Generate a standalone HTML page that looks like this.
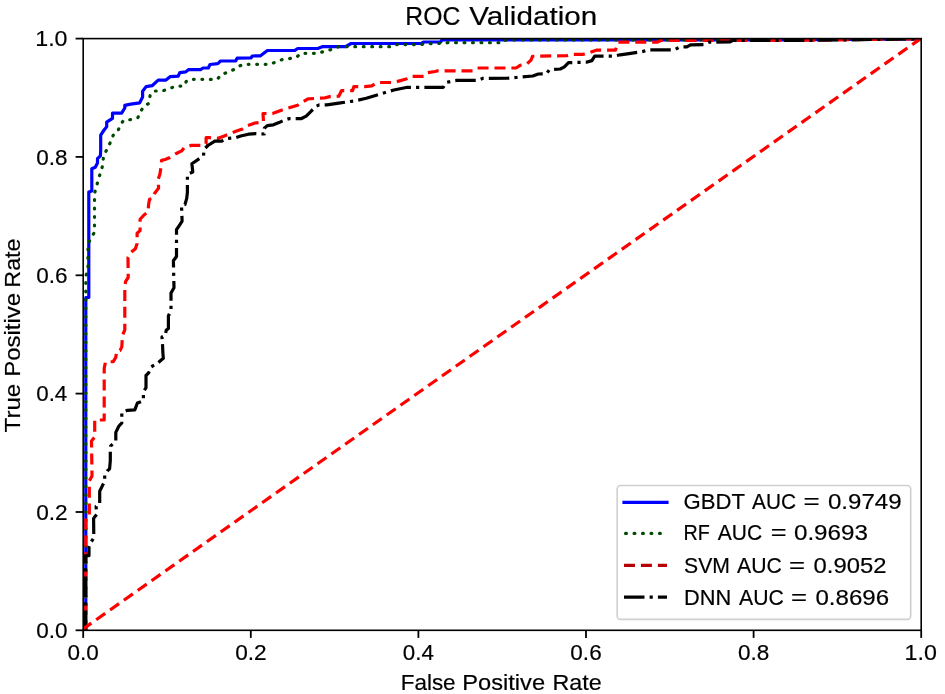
<!DOCTYPE html><html><head><meta charset="utf-8"><style>html,body{margin:0;padding:0;background:#fff;}svg{display:block;will-change:transform;}</style></head><body><svg width="945" height="694" viewBox="0 0 945 694">
<rect width="945" height="694" fill="#fff"/>
<defs><clipPath id="ax"><rect x="83.2" y="38.6" width="838.0" height="591.6999999999999"/></clipPath></defs>
<g clip-path="url(#ax)" fill="none" stroke-linejoin="round">
<path d="M85.8 631.0 L85.8 297.5 L88.8 297.5 L88.8 192.0 L91.8 191.0 L91.8 168.8 L95.3 167.3 L97.5 163.0 L97.5 158.7 L100.4 155.8 L100.7 150.0 L100.7 135.2 L104.1 130.0 L106.7 126.8 L106.7 122.2 L112.5 118.3 L112.5 113.2 L121.6 113.2 L124.8 108.0 L124.8 105.4 L130.7 104.1 L139.7 102.8 L142.6 97.1 L142.6 91.3 L146.1 86.6 L152.1 85.7 L158.2 80.1 L166.0 80.1 L170.3 76.6 L178.1 76.2 L179.8 72.7 L185.8 71.9 L188.4 69.7 L200.5 69.7 L203.1 68.0 L208.3 68.0 L210.0 64.5 L217.8 63.6 L220.6 61.0 L235.8 60.8 L237.1 58.2 L250.9 58.0 L252.3 56.0 L260.5 55.8 L267.4 50.5 L294.9 50.3 L297.7 48.5 L318.3 48.3 L322.4 46.7 L345.6 46.7 L351.1 43.5 L421.3 43.5 L424.0 42.0 L440.6 42.0 L442.0 39.9 L780.0 39.9 L921.2 38.8" stroke="#0000ff" stroke-width="3.2" stroke-linecap="square"/>
<path d="M85.8 631.0 L85.8 276.0 L88.0 270.0 L88.0 244.5 L90.4 239.0 L93.8 233.4 L94.5 226.0 L94.5 193.5 L96.6 186.0 L98.6 178.4 L101.4 170.1 L102.8 164.6 L103.5 156.0 L108.3 146.7 L111.0 141.0 L113.2 135.2 L117.7 131.3 L120.3 125.5 L123.5 120.3 L131.3 119.6 L137.8 117.7 L140.4 111.9 L143.6 106.7 L148.8 103.4 L150.1 95.6 L153.7 91.0 L161.9 91.0 L168.8 88.9 L175.7 86.1 L183.9 86.1 L186.7 80.6 L192.2 79.3 L217.2 79.4 L221.3 74.6 L227.5 72.3 L233.7 69.6 L238.5 66.3 L244.0 64.3 L270.2 64.3 L275.7 62.0 L282.5 59.5 L289.4 58.6 L296.3 57.4 L301.1 53.3 L318.3 53.3 L325.2 51.0 L331.9 49.4 L338.8 46.7 L391.0 46.7 L393.8 44.6 L421.3 44.6 L425.4 43.3 L435.0 43.8 L448.0 42.7 L503.0 42.7 L506.0 40.0 L780.0 40.0 L921.2 38.8" stroke="#004a00" stroke-width="3.2" stroke-dasharray="0.8 7.68" stroke-linecap="round"/>
<path d="M85.8 631.0 L85.8 518.0 L89.3 516.0 L89.3 481.0 L92.0 476.0 L91.5 441.0 L94.7 437.0 L94.7 420.0 L104.2 420.0 L104.2 368.4 L105.5 362.0 L113.2 361.6 L115.8 357.3 L116.6 351.2 L120.1 350.4 L121.8 346.9 L122.5 335.3 L124.8 329.8 L124.8 289.9 L125.5 281.6 L128.2 277.5 L128.0 257.4 L131.1 252.2 L135.4 248.7 L137.1 243.5 L137.1 233.2 L140.1 230.6 L140.1 219.3 L144.0 215.0 L148.0 212.0 L148.6 204.5 L149.5 199.3 L153.0 198.4 L154.7 193.2 L158.6 188.1 L158.2 179.4 L159.9 174.2 L161.2 165.6 L161.6 160.4 L165.1 159.5 L169.4 157.8 L176.3 153.5 L181.6 150.9 L184.4 147.5 L191.3 145.4 L200.9 145.4 L206.1 143.7 L206.1 137.7 L209.6 137.7 L218.2 138.3 L224.3 135.9 L230.4 133.4 L237.3 130.8 L242.5 129.0 L247.6 125.6 L255.0 123.0 L263.5 121.9 L263.0 113.5 L272.5 113.5 L284.6 109.2 L297.6 105.3 L302.0 102.3 L308.0 98.8 L324.4 98.0 L329.6 96.6 L338.8 96.2 L341.5 90.7 L352.5 90.7 L353.9 86.6 L364.9 86.6 L371.8 85.9 L377.3 82.5 L393.8 82.5 L406.2 79.0 L410.3 76.3 L424.0 76.3 L426.8 72.8 L435.0 71.5 L437.8 70.8 L473.4 70.8 L477.5 68.0 L516.0 68.0 L520.2 65.3 L527.0 63.9 L531.2 59.8 L532.5 56.3 L566.9 55.6 L571.0 54.3 L580.0 54.3 L583.3 54.3 L590.0 52.3 L596.3 50.2 L615.4 50.2 L618.3 42.2 L657.0 42.2 L661.4 40.3 L800.0 40.3 L921.2 38.8" stroke="#ff0000" stroke-width="3.2" stroke-dasharray="11.0 5.92" stroke-linecap="butt"/>
<path d="M85.6 631.0 L85.6 555.6 L89.0 555.6 L89.0 547.0 L91.0 542.0 L93.8 538.0 L93.6 518.4 L96.6 514.4 L96.1 506.3 L99.7 504.3 L99.7 491.2 L102.2 486.1 L104.7 481.1 L104.7 475.0 L107.2 471.0 L109.6 468.9 L110.3 460.6 L110.3 452.4 L110.6 446.2 L115.8 441.0 L115.8 432.4 L118.8 426.3 L121.8 422.9 L121.8 412.5 L127.4 410.3 L134.8 409.9 L137.4 403.0 L143.4 400.8 L143.4 392.0 L146.0 387.6 L146.0 375.5 L148.6 372.9 L151.2 366.8 L157.3 363.4 L163.3 358.2 L162.9 353.0 L162.5 344.3 L162.0 337.0 L165.4 335.4 L166.2 330.2 L168.4 328.4 L168.4 316.0 L171.0 310.3 L171.0 293.0 L174.0 287.8 L173.4 260.8 L176.5 256.5 L176.5 229.7 L179.1 225.8 L182.1 221.1 L181.5 205.3 L185.0 204.5 L186.7 198.4 L187.4 192.4 L187.4 174.2 L192.8 172.0 L191.9 163.8 L203.5 155.8 L204.0 149.4 L207.9 145.5 L214.8 141.1 L221.7 141.1 L226.9 138.5 L235.5 137.7 L240.7 136.0 L248.5 134.2 L255.9 133.6 L264.3 134.0 L264.3 128.2 L267.3 125.6 L273.4 124.8 L279.0 122.6 L284.6 120.0 L288.9 118.7 L301.0 118.7 L306.2 116.1 L310.5 111.8 L315.7 106.6 L319.2 104.9 L327.0 104.8 L338.8 103.1 L353.9 101.0 L366.3 98.3 L380.0 94.1 L393.8 90.0 L407.5 87.3 L443.3 87.3 L446.0 82.5 L455.0 80.6 L456.9 80.4 L477.5 80.4 L483.0 78.3 L507.8 78.2 L516.3 77.5 L532.8 76.0 L538.3 74.0 L546.5 73.8 L549.3 69.8 L560.3 69.0 L564.4 66.8 L568.5 62.7 L586.4 62.2 L591.9 60.6 L594.7 56.2 L613.8 56.2 L620.2 54.8 L627.3 53.8 L642.4 51.6 L648.7 49.8 L674.1 49.9 L679.7 47.0 L686.8 46.8 L690.5 44.8 L704.3 44.6 L709.0 42.2 L729.7 42.0 L732.3 40.5 L800.0 40.5 L921.2 38.8" stroke="#000000" stroke-width="3.2" stroke-dasharray="20.48 5.12 3.20 5.12" stroke-linecap="butt"/>
<path d="M83.2 628.9 L921.2 38.300000000000004" stroke="#ff0000" stroke-width="3.2" stroke-dasharray="11.0 5.92" stroke-dashoffset="1" stroke-linecap="butt"/>
</g>
<rect x="83.2" y="38.6" width="838.0" height="591.6999999999999" fill="none" stroke="#000" stroke-width="1.6" stroke-linejoin="miter"/>
<line x1="83.2" y1="630.3" x2="83.2" y2="637.9" stroke="#000" stroke-width="1.8"/>
<line x1="250.8" y1="630.3" x2="250.8" y2="637.9" stroke="#000" stroke-width="1.8"/>
<line x1="418.4" y1="630.3" x2="418.4" y2="637.9" stroke="#000" stroke-width="1.8"/>
<line x1="586.0" y1="630.3" x2="586.0" y2="637.9" stroke="#000" stroke-width="1.8"/>
<line x1="753.6" y1="630.3" x2="753.6" y2="637.9" stroke="#000" stroke-width="1.8"/>
<line x1="921.2" y1="630.3" x2="921.2" y2="637.9" stroke="#000" stroke-width="1.8"/>
<line x1="75.60000000000001" y1="630.3" x2="83.2" y2="630.3" stroke="#000" stroke-width="1.8"/>
<line x1="75.60000000000001" y1="512.0" x2="83.2" y2="512.0" stroke="#000" stroke-width="1.8"/>
<line x1="75.60000000000001" y1="393.6" x2="83.2" y2="393.6" stroke="#000" stroke-width="1.8"/>
<line x1="75.60000000000001" y1="275.3" x2="83.2" y2="275.3" stroke="#000" stroke-width="1.8"/>
<line x1="75.60000000000001" y1="156.9" x2="83.2" y2="156.9" stroke="#000" stroke-width="1.8"/>
<line x1="75.60000000000001" y1="38.6" x2="83.2" y2="38.6" stroke="#000" stroke-width="1.8"/>
<g font-family='"Liberation Sans", sans-serif' fill="#000" stroke="#000" stroke-width="0.18">
<text transform="translate(67.55,659.90) scale(1.0303,1)" font-size="21.86">0.0</text>
<text transform="translate(235.14,659.90) scale(1.0382,1)" font-size="21.86">0.2</text>
<text transform="translate(402.76,659.90) scale(1.0225,1)" font-size="21.86">0.4</text>
<text transform="translate(570.35,659.90) scale(1.0303,1)" font-size="21.86">0.6</text>
<text transform="translate(737.95,659.90) scale(1.0303,1)" font-size="21.86">0.8</text>
<text transform="translate(904.59,659.90) scale(1.0627,1)" font-size="21.86">1.0</text>
<text transform="translate(36.20,638.10) scale(0.9914,1)" font-size="22.71">0.0</text>
<text transform="translate(36.19,519.76) scale(0.9990,1)" font-size="22.71">0.2</text>
<text transform="translate(36.21,401.42) scale(0.9839,1)" font-size="22.71">0.4</text>
<text transform="translate(36.20,283.08) scale(0.9914,1)" font-size="22.71">0.6</text>
<text transform="translate(36.20,164.74) scale(0.9914,1)" font-size="22.71">0.8</text>
<text transform="translate(35.24,46.40) scale(1.0226,1)" font-size="22.71">1.0</text>
<text transform="translate(405.32,25.30) scale(0.9630,1)" font-size="25.71">ROC</text>
<text transform="translate(469.20,25.30) scale(1.1538,1)" font-size="25.71">Validation</text>
<text transform="translate(400.70,690.10) scale(1.0480,1)" font-size="21.43">False</text>
<text transform="translate(462.21,690.10) scale(1.1045,1)" font-size="21.43">Positive</text>
<text transform="translate(552.43,690.10) scale(1.0881,1)" font-size="21.43">Rate</text>
<text transform="translate(19.50,431.90) rotate(-90) scale(1.1248,1) translate(-0.43,0)" font-size="21.43">True</text>
<text transform="translate(19.50,374.90) rotate(-90) scale(1.1197,1) translate(-1.71,0)" font-size="21.43">Positive</text>
<text transform="translate(19.50,285.80) rotate(-90) scale(1.0858,1) translate(-1.71,0)" font-size="21.43">Rate</text>
</g>
<rect x="617.2" y="485.5" width="293.5" height="133.9" rx="3.5" ry="3.5" fill="#fff" fill-opacity="0.8" stroke="#d0d0d0" stroke-width="1.6"/>
<line x1="624" y1="502.4" x2="667" y2="502.4" stroke="#0000ff" stroke-width="3.2" stroke-linecap="square"/>
<g font-family='"Liberation Sans", sans-serif' fill="#000" stroke="#000" stroke-width="0.18">
<text transform="translate(683.59,508.50) scale(1.0315,1)" font-size="21.43">GBDT</text>
<text transform="translate(752.10,508.50) scale(0.9717,1)" font-size="21.43">AUC</text>
<text transform="translate(803.41,508.50) scale(1.2931,1)" font-size="21.43">=</text>
<text transform="translate(827.94,508.50) scale(1.1250,1)" font-size="21.43">0.9749</text>
</g>
<line x1="625.6" y1="533.4" x2="667" y2="533.4" stroke="#004a00" stroke-width="3.2" stroke-dasharray="0.8 7.68" stroke-linecap="round"/>
<g font-family='"Liberation Sans", sans-serif' fill="#000" stroke="#000" stroke-width="0.18">
<text transform="translate(683.52,540.30) scale(0.9218,1)" font-size="21.43">RF</text>
<text transform="translate(717.80,540.30) scale(0.9807,1)" font-size="21.43">AUC</text>
<text transform="translate(770.75,540.30) scale(1.2639,1)" font-size="21.43">=</text>
<text transform="translate(793.93,540.30) scale(1.1297,1)" font-size="21.43">0.9693</text>
</g>
<line x1="624" y1="565.3" x2="667" y2="565.3" stroke="#b80000" stroke-width="3.2" stroke-dasharray="11.0 5.92"/>
<g font-family='"Liberation Sans", sans-serif' fill="#000" stroke="#000" stroke-width="0.18">
<text transform="translate(684.04,573.20) scale(0.9882,1)" font-size="21.43">SVM</text>
<text transform="translate(737.10,573.20) scale(0.9897,1)" font-size="21.43">AUC</text>
<text transform="translate(789.12,573.20) scale(1.2833,1)" font-size="21.43">=</text>
<text transform="translate(813.55,573.20) scale(1.1140,1)" font-size="21.43">0.9052</text>
</g>
<line x1="624" y1="597.2" x2="667" y2="597.2" stroke="#000000" stroke-width="3.2" stroke-dasharray="20.48 5.12 3.20 5.12"/>
<g font-family='"Liberation Sans", sans-serif' fill="#000" stroke="#000" stroke-width="0.18">
<text transform="translate(683.96,604.90) scale(1.0169,1)" font-size="21.43">DNN</text>
<text transform="translate(739.00,604.90) scale(0.9897,1)" font-size="21.43">AUC</text>
<text transform="translate(791.02,604.90) scale(1.2833,1)" font-size="21.43">=</text>
<text transform="translate(815.44,604.90) scale(1.1250,1)" font-size="21.43">0.8696</text>
</g>
</svg></body></html>
